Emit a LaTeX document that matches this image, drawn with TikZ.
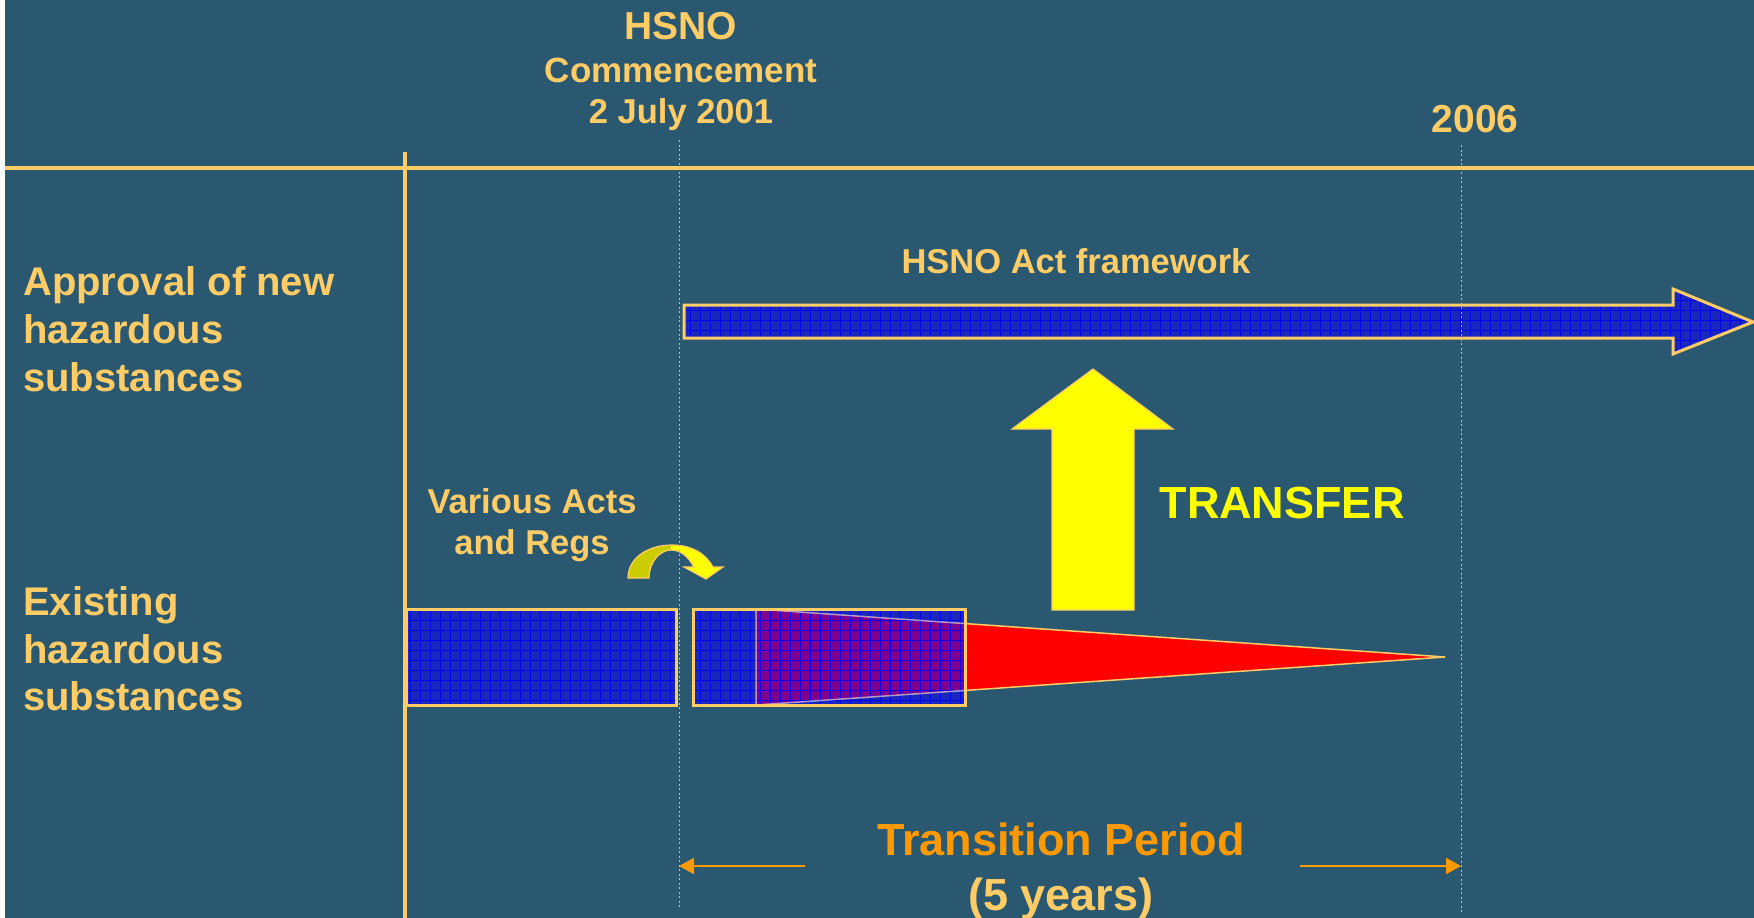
\documentclass[tikz,border=0pt]{standalone}
\usepackage{fontspec}
\setmainfont{Liberation Sans}
\usetikzlibrary{arrows.meta}
\definecolor{bg}{RGB}{42,88,112}
\definecolor{gold}{RGB}{255,204,102}
\definecolor{orng}{RGB}{255,153,0}
\definecolor{bluefill}{RGB}{26,40,186}
\definecolor{gridblue}{RGB}{0,0,245}
\definecolor{olive}{RGB}{204,204,0}
\definecolor{yel}{RGB}{255,255,0}
\definecolor{purp}{RGB}{128,0,140}
\begin{document}
\begin{tikzpicture}[x=1pt,y=-1pt,
  txt/.style={text=gold, inner sep=0pt, anchor=base},
  ltxt/.style={text=gold, inner sep=0pt, anchor=base west, font=\bfseries\fontsize{40}{48}\selectfont},
  gridlines/.style={draw=gridblue, line width=0.55pt, step=10pt},
  dotline/.style={draw=gold!85!bg, line width=1pt, dash pattern=on 2pt off 2.5pt},
  outline/.style={draw=gold, line width=3pt}]
\useasboundingbox (0,0) rectangle (1754,918);
\fill[white] (0,0) rectangle (5,918);
\fill[bg] (5,0) rectangle (1754,918);

% axes
\coordinate (hl) at (5,168);
\coordinate (hr) at (1754,168);
\coordinate (vt) at (405,152);
\coordinate (vb) at (405,918);
\draw[gold, line width=4.5pt] (hl) -- (hr);
\draw[gold, line width=3.5pt] (vt) -- (vb);

% HSNO Act framework arrow
\path[fill=bluefill, outline, path picture={\draw[gridlines] (684,360) grid (1754,285);}]
  (684,305) -- (1673,305) -- (1673,289) -- (1753,322) -- (1673,354) -- (1673,338) -- (684,338) -- cycle;

% TRANSFER arrow
\path[fill=yel, draw=gold, line width=1.2pt]
  (1052,610) -- (1052,429) -- (1012,429) -- (1093,369) -- (1173,429) -- (1134,429) -- (1134,610) -- cycle;

% existing substances bars
\path[fill=bluefill, outline, path picture={\draw[gridlines] (406,705) grid (676,609);}]
  (406,609) rectangle (676,705);
\path[fill=bluefill, path picture={\draw[gridlines] (693,705) grid (965,609);}]
  (693,609) rectangle (965,705);
\begin{scope}
  \clip (693,609) rectangle (965,705);
  \path[fill=purp, path picture={\draw[gridlines] (693,705) grid (965,609);}]
    (756,609) -- (1445,657) -- (756,705) -- cycle;
  \draw[white!70!gold, opacity=0.6, line width=1.5pt] (756,609) -- (1445,657) -- (756,705) -- cycle;
\end{scope}
\begin{scope}
  \clip (965,0) rectangle (1754,918);
  \fill[red] (756,609) -- (1445,657) -- (756,705) -- cycle;
  \draw[gold, line width=1.5pt] (756,609) -- (1445,657) -- (756,705);
\end{scope}
\draw[outline] (693,609) rectangle (965,705);

% curved arrow
\path[fill=yel, draw=gold, line width=1.2pt, path picture={\fill[olive] (600,530) rectangle (671,590);}]
  (628,578) .. controls (628,558) and (648,545) .. (672,545)
  .. controls (692,545) and (706,554) .. (713,567) -- (723,567) -- (706,579) -- (684,567) -- (694,567)
  .. controls (688,556) and (680,550) .. (671,550)
  .. controls (660,550) and (649,562) .. (649,578) -- cycle;

% transition period arrows
\coordinate (tl0) at (805,866);
\coordinate (tl1) at (679,866);
\coordinate (tr0) at (1300,866);
\coordinate (tr1) at (1461,866);
\draw[orng, line width=2pt, -{Triangle[length=15pt,width=16pt]}] (tl0) -- (tl1);
\draw[orng, line width=2pt, -{Triangle[length=15pt,width=16pt]}] (tr0) -- (tr1);

% dotted time markers
\coordinate (d1t) at (679,140);
\coordinate (d1b) at (679,908);
\coordinate (d2t) at (1461,145);
\coordinate (d2b) at (1461,913);
\draw[dotline] (d1t) -- (d1b);
\draw[dotline] (d2t) -- (d2b);

% texts
\node[txt, font=\bfseries\fontsize{39}{39}\selectfont] (hsno) at (681,39) {HSNO};
\node[txt, font=\bfseries\fontsize{35}{35}\selectfont] (comm) at (681,82) {Commencement};
\node[txt, font=\bfseries\fontsize{34.5}{34.5}\selectfont] (date) at (681,123) {2 July 2001};
\node[txt, font=\bfseries\fontsize{39}{39}\selectfont] (y2006) at (1475,132) {2006};
\node[txt, font=\bfseries\fontsize{34.5}{34.5}\selectfont] (fw) at (1076,273) {HSNO Act framework};

\node[ltxt] (ap1) at (23,295) {Approval of new};
\node[ltxt] (ap2) at (23,343) {hazardous};
\node[ltxt] (ap3) at (23,391) {substances};
\node[ltxt] (ex1) at (23,615) {Existing};
\node[ltxt] (ex2) at (23,663) {hazardous};
\node[ltxt] (ex3) at (23,710) {substances};

\node[txt, font=\bfseries\fontsize{34.5}{34.5}\selectfont] (va1) at (532,513) {Various Acts};
\node[txt, font=\bfseries\fontsize{34.5}{34.5}\selectfont] (va2) at (532,554) {and Regs};

\node[txt, text=yel, font=\bfseries\fontsize{45}{45}\selectfont] (transfer) at (1282,518) {TRANSFER};
\node[txt, text=orng, font=\bfseries\fontsize{45}{45}\selectfont] (tp) at (1061,855) {Transition Period};
\node[txt, font=\bfseries\fontsize{45}{45}\selectfont] (fy) at (1061,910) {(5 years)};
\end{tikzpicture}
\end{document}
